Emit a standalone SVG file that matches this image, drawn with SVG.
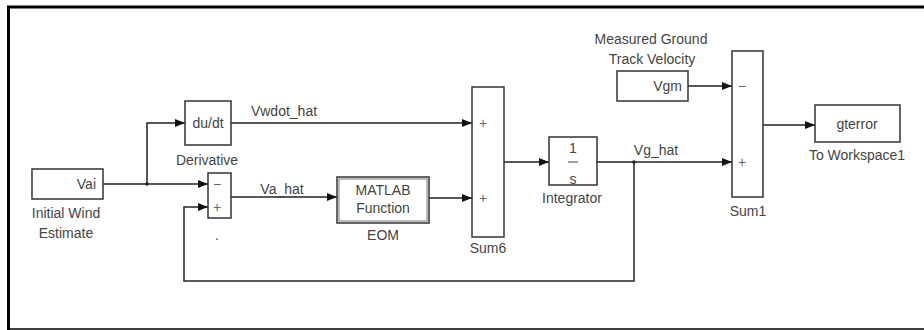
<svg xmlns="http://www.w3.org/2000/svg" width="924" height="330" viewBox="0 0 924 330">
<defs>
<marker id="ah" viewBox="0 0 10 8" refX="10" refY="4" markerWidth="10" markerHeight="8" markerUnits="userSpaceOnUse" orient="auto">
<path d="M0,0 L10,4 L0,8 z" fill="#111"/>
</marker>
<style>
.blk{fill:#fff;stroke:#333;stroke-width:1.5}
.ln{fill:none;stroke:#222;stroke-width:1.5}
.ar{fill:none;stroke:#222;stroke-width:1.5;marker-end:url(#ah)}
text{font-family:"Liberation Sans",Arial,sans-serif;font-size:14px;fill:#444}
.c{text-anchor:middle}
.r{text-anchor:end}
.sg{font-size:14px;fill:#666;text-anchor:middle}
</style>
</defs>
<rect x="0" y="0" width="924" height="330" fill="#fff"/>
<path d="M8.5,330 V7 H924" fill="none" stroke="#000" stroke-width="3"/>
<line x1="8" y1="329" x2="924" y2="329" stroke="#000" stroke-width="1.5"/>

<g id="connectors">
<path class="ln" d="M103,184 H147"/>
<path class="ar" d="M147,184 V123 H185"/>
<path class="ar" d="M147,184 H208"/>
<path class="ar" d="M231,123 H472"/>
<path class="ar" d="M231,197 H337"/>
<path class="ar" d="M429,198 H472"/>
<path class="ar" d="M504,162 H549"/>
<path class="ar" d="M597,162 H732"/>
<path class="ar" d="M634,162 V281 H184 V207 H208"/>
<path class="ar" d="M688,86 H732"/>
<path class="ar" d="M763,125 H815"/>
<circle cx="147" cy="184" r="1.8" fill="#222"/>
<circle cx="634" cy="162" r="1.8" fill="#222"/>
<text x="284" y="116" class="c">Vwdot_hat</text>
<text x="282" y="194" class="c">Va_hat</text>
<text x="656" y="155" class="c">Vg_hat</text>
</g>

<g id="vai">
<rect class="blk" x="32" y="169" width="71" height="30"/>
<text x="96" y="189" class="r">Vai</text>
<text x="66" y="218" class="c">Initial Wind</text>
<text x="66" y="238" class="c">Estimate</text>
</g>

<g id="derivative">
<rect class="blk" x="185" y="101" width="46" height="44"/>
<text x="208" y="128" class="c">du/dt</text>
<text x="207" y="165" class="c">Derivative</text>
</g>

<g id="sum">
<rect class="blk" x="208" y="173" width="23" height="45"/>
<text x="217" y="189" class="sg">−</text>
<text x="217" y="212" class="sg">+</text>
<text x="217" y="240" class="c">.</text>
</g>

<g id="eom">
<rect class="blk" x="337" y="177" width="92" height="46"/>
<rect x="339" y="179" width="88" height="42" fill="none" stroke="#777" stroke-width="1"/>
<text x="383" y="195" class="c">MATLAB</text>
<text x="383" y="213" class="c">Function</text>
<text x="383" y="240" class="c">EOM</text>
</g>

<g id="sum6">
<rect class="blk" x="472" y="87" width="32" height="150"/>
<text x="483" y="128" class="sg">+</text>
<text x="483" y="203" class="sg">+</text>
<text x="488" y="253" class="c">Sum6</text>
</g>

<g id="integrator">
<rect class="blk" x="549" y="137" width="48" height="48"/>
<text x="573" y="153" class="c">1</text>
<line x1="568" y1="162" x2="578" y2="162" stroke="#444" stroke-width="1"/>
<text x="573" y="184" class="c">s</text>
<text x="572" y="203" class="c">Integrator</text>
</g>

<g id="vgm">
<rect class="blk" x="617" y="71" width="71" height="30"/>
<text x="682" y="91" class="r">Vgm</text>
<text x="651" y="44" class="c">Measured Ground</text>
<text x="652" y="64" class="c">Track Velocity</text>
</g>

<g id="sum1">
<rect class="blk" x="732" y="51" width="31" height="146"/>
<text x="742" y="91" class="sg">−</text>
<text x="742" y="167" class="sg">+</text>
<text x="748" y="216" class="c">Sum1</text>
</g>

<g id="toworkspace">
<rect class="blk" x="815" y="105" width="85" height="37"/>
<text x="857" y="129" class="c">gterror</text>
<text x="857" y="160" class="c">To Workspace1</text>
</g>
</svg>
